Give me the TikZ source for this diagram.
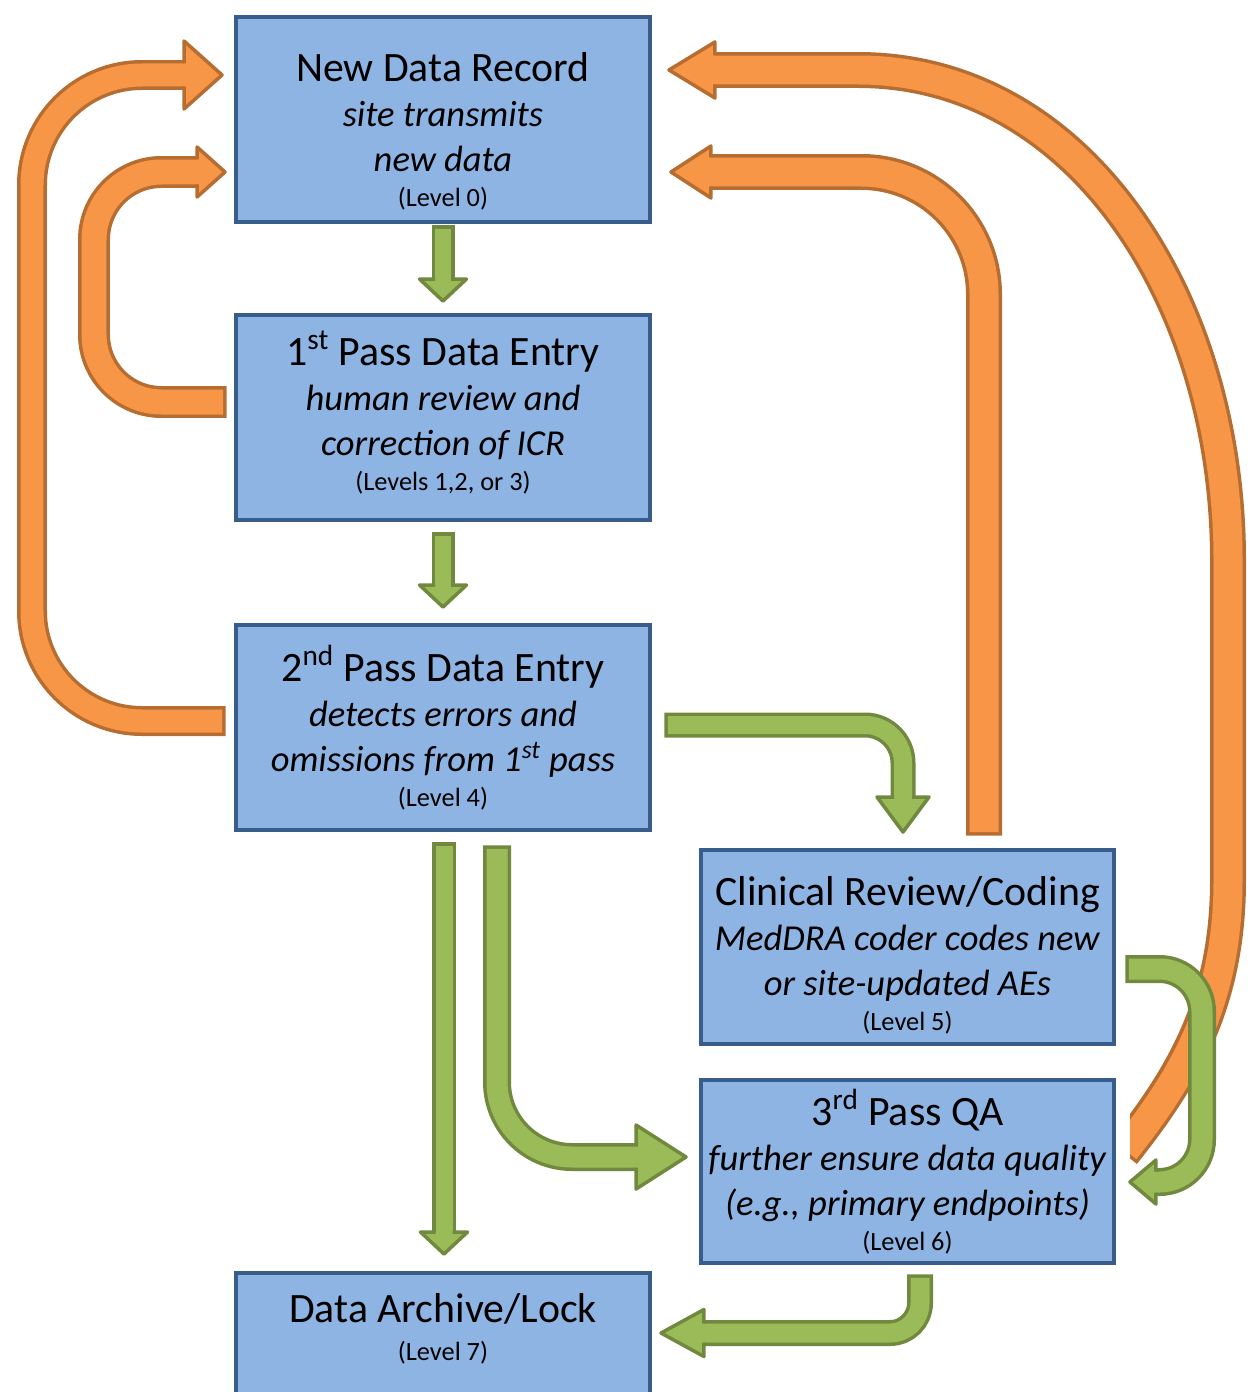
\documentclass[tikz,border=0pt]{standalone}
\usepackage{fontspec}
\setmainfont{Carlito}
\usetikzlibrary{calc}

\definecolor{boxfill}{HTML}{8EB4E3}
\definecolor{boxline}{HTML}{385D8A}
\definecolor{orangefill}{HTML}{F79646}
\definecolor{orangeline}{HTML}{B66D31}
\definecolor{greenfill}{HTML}{9BBB59}
\definecolor{greenline}{HTML}{71893F}

\tikzset{
    stage/.style={draw=boxline, fill=boxfill, line width=0.08cm, align=center,
        minimum width=8.28cm, minimum height=4.1cm, inner sep=0pt, text depth=0.1cm,
        font=\fontsize{20.8}{25.5}\selectfont},
    orange shaft/.style={draw=orangefill, line width=#1,
        preaction={draw=orangeline, line width=#1+0.14cm, shorten <=-0.07cm}},
    green shaft/.style={draw=greenfill, line width=#1,
        preaction={draw=greenline, line width=#1+0.14cm, shorten <=-0.07cm}},
    pics/tip/.style n args={4}{code={
        \fill[#1fill] (0,-#3/2) -- (#2,0) -- (0,#3/2) -- cycle;
        \draw[#1line, line width=0.07cm, line join=round]
            (0,-#4/2) -- (0,-#3/2) -- (#2,0) -- (0,#3/2) -- (0,#4/2);
    }}
}
\newcommand{\ttl}[1]{{\fontsize{23.8}{26.6}\selectfont #1}}
\newcommand{\lvl}[1]{{\fontsize{15}{18}\selectfont #1}}

\begin{document}
\begin{tikzpicture}[x=0.02cm, y=-0.02cm]
        \useasboundingbox (0,0) rectangle (1255,1392);

        % Stages
        \node[stage, text height=3.58cm] (new) at (443,119.5)
            {\ttl{New Data Record}\\[0.5pt] \textit{site transmits}\\ \textit{new data}\\[-5.7pt] \lvl{(Level 0)}};
        \node[stage, text height=3.02cm] (pass1) at (443,417.5)
            {\ttl{1\textsuperscript{st} Pass Data Entry}\\[0.5pt] \textit{human review and}\\ \textit{correction of ICR}\\[-5.7pt] \lvl{(Levels 1,2, or 3)}};
        \node[stage, text height=3.26cm] (pass2) at (443,727.5)
            {\ttl{2\textsuperscript{nd} Pass Data Entry}\\[0.5pt] \textit{detects errors and}\\ \textit{omissions from 1\textsuperscript{st} pass}\\[-5.7pt] \lvl{(Level 4)}};
        \node[stage, minimum width=8.26cm, minimum height=3.88cm, text height=3.44cm] (coding) at (907.5,947)
            {\ttl{Clinical Review/Coding}\\[0.5pt] \textit{MedDRA coder codes new}\\ \textit{or site-updated AEs}\\[-5.7pt] \lvl{(Level 5)}};
        \node[stage, minimum width=8.26cm, minimum height=3.66cm, text height=3.26cm] (pass3) at (907.5,1171.5)
            {\ttl{3\textsuperscript{rd} Pass QA}\\[0.5pt] \textit{further ensure data quality}\\ \textit{(e.g., primary endpoints)}\\[-5.7pt] \lvl{(Level 6)}};
        \node[stage, text height=1cm, text depth=1.6cm] (lock) at (443,1375.5)
            {\ttl{Data Archive/Lock}\\[-3.7pt] \lvl{(Level 7)}};

        % Orange arrows back to the new record
        \draw[orange shaft=0.46cm, rounded corners=2.2cm]
            ($(pass2.west)+(-12,-6.5)$) -| (32,75) -- ($(new.west)+(-50,-44.5)$) coordinate (o1h);
        \pic at (o1h) {tip={orange}{38}{68}{23}};

        \draw[orange shaft=0.5cm, rounded corners=1.35cm]
            ($(pass1.west)+(-11,-15.5)$) -| (94,172) -- ($(new.west)+(-37,52.5)$) coordinate (o2h);
        \pic at (o2h) {tip={orange}{28}{50}{25}};

        \draw[orange shaft=0.58cm, rounded corners=2.45cm]
            ($(coding.north)+(76.5,-16)$) |- ($(new.east)+(59,52.5)$) coordinate (o3h);
        \pic[rotate=180] at (o3h) {tip={orange}{40}{52}{29}};

        \begin{scope}
            \clip (0,0) -- (1255,0) -- (1255,1392) -- (1130,1392) -- (1130,1000) -- (0,1000) -- cycle;
            \draw[orange shaft=0.58cm]
                ($(pass3.east)+(9,-21.5)$) .. controls (1185,1075) and (1228,1000) .. (1228,880)
                -- (1228,560) .. controls (1228,300) and (1080,70) .. (858,70)
                -- ($(new.east)+(63,-49.5)$) coordinate (o4h);
            \pic[rotate=180] at (o4h) {tip={orange}{46}{56}{29}};
        \end{scope}

        % Green arrows forward
        \draw[green shaft=0.32cm] ($(new.south)+(0,5)$) -- ($(pass1.north)+(0,-34)$) coordinate (g1h);
        \pic[rotate=-90] at (g1h) {tip={green}{22}{47}{16}};

        \draw[green shaft=0.32cm] ($(pass1.south)+(0,14)$) -- ($(pass2.north)+(0,-38)$) coordinate (g2h);
        \pic[rotate=-90] at (g2h) {tip={green}{22}{47}{16}};

        \draw[green shaft=0.36cm, rounded corners=0.76cm]
            ($(pass2.east)+(16,-2.5)$) -| ($(coding.north)+(-4.5,-51)$) coordinate (g3h);
        \pic[rotate=-90] at (g3h) {tip={green}{35}{52}{18}};

        \draw[green shaft=0.34cm] ($(pass2.south)+(1,14)$) -- ($(lock.north)+(1,-39)$) coordinate (g4h);
        \pic[rotate=-90] at (g4h) {tip={green}{22}{47}{17}};

        \draw[green shaft=0.42cm, rounded corners=1.5cm]
            ($(pass2.south)+(54,17)$) |- ($(pass3.west)+(-63,-14.5)$) coordinate (g5h);
        \pic at (g5h) {tip={green}{50}{64}{21}};

        \draw[green shaft=0.42cm, rounded corners=0.85cm]
            ($(coding.east)+(13,22)$) -| (1202,1182) -- ($(pass3.east)+(40,10.5)$) coordinate (g6h);
        \pic[rotate=180] at (g6h) {tip={green}{26}{44}{21}};

        \draw[green shaft=0.38cm, rounded corners=0.6cm]
            ($(pass3.south)+(12.5,13)$) |- ($(lock.east)+(52,-42.5)$) coordinate (g7h);
        \pic[rotate=180] at (g7h) {tip={green}{43}{47}{19}};

\end{tikzpicture}
\end{document}
